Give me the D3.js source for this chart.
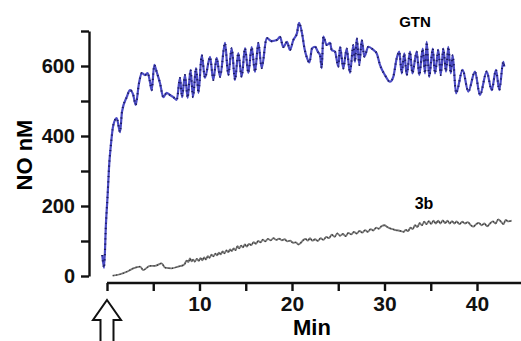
<!DOCTYPE html>
<html>
<head>
<meta charset="utf-8">
<script src="https://cdn.jsdelivr.net/npm/d3@7"></script>
<style>
  body { margin: 0; background: #fff; }
  svg { display: block; font-family: "Liberation Sans", Arial, sans-serif; }
  .axis path, .axis line { stroke: #111; stroke-width: 2.4; }
  .axis text { font-weight: bold; fill: #111; }
</style>
</head>
<body>
<div id="chart"></div>
<script>
// GTN trace (min, nM)
var gtnTime = [-0.51, -0.32, -0.11, 0.08, 0.22, 0.40, 0.68, 1.05, 1.41, 1.62, 2.13, 2.49, 2.84, 3.10,
  3.46, 3.75, 4.11, 4.40, 4.65, 4.83, 5.11, 5.37, 5.73, 6.09, 6.45, 6.81, 7.17, 7.54, 7.89, 8.11,
  8.43, 8.72, 9.03, 9.30, 9.62, 9.89, 10.24, 10.59, 11.14, 11.49, 11.86, 12.22, 12.76, 13.11, 13.48,
  13.84, 14.19, 14.56, 14.92, 15.28, 15.64, 16.00, 16.36, 16.72, 17.26, 17.81, 18.35, 18.70, 19.06,
  19.46, 19.78, 20.14, 20.54, 20.76, 21.08, 21.35, 21.62, 21.89, 22.16, 22.49, 22.81, 23.03, 23.21,
  23.38, 23.75, 24.11, 24.29, 24.65, 25.01, 25.19, 25.55, 25.91, 26.27, 26.63, 26.81, 27.00, 27.28,
  27.54, 27.82, 28.25, 28.79, 29.16, 29.51, 30.05, 30.59, 30.95, 31.32, 31.60, 31.86, 32.14, 32.40,
  32.76, 33.01, 33.48, 33.76, 34.13, 34.38, 34.56, 34.84, 35.21, 35.46, 35.82, 36.08, 36.36, 36.65,
  36.90, 37.16, 37.37, 37.73, 38.45, 39.06, 39.78, 40.32, 41.05, 41.59, 42.05, 42.41, 42.84, 42.95];
var gtnNO = [60, 23, 151, 237, 311, 369, 431, 451, 411, 469, 511, 531, 517, 489,
  551, 580, 574, 580, 554, 531, 603, 583, 551, 511, 523, 517, 511, 503, 566, 511,
  574, 509, 589, 511, 594, 523, 631, 566, 626, 560, 623, 569, 666, 574, 651,
  560, 637, 569, 651, 580, 654, 583, 666, 594, 680, 671, 674, 683, 654,
  669, 646, 674, 694, 723, 694, 650, 623, 610, 650, 655, 640, 631, 594,
  684, 660, 666, 646, 641, 598, 655, 593, 650, 580, 660, 612, 679, 603,
  674, 627, 655, 646, 636, 603, 574, 555, 569, 622, 641, 579, 636, 574,
  641, 579, 641, 574, 650, 579, 669, 569, 650, 579, 646, 574, 650, 584,
  655, 579, 631, 522, 589, 527, 584, 517, 584, 531, 589, 531, 612, 598];

// 3b trace (min, nM)
var b3Time = [0.62, 1.41, 2.13, 2.84, 3.57, 3.92, 4.65, 5.19, 5.91, 6.27, 6.99, 7.71, 8.25,
  8.4, 8.6, 8.8, 8.97, 9.15, 9.33, 9.5, 9.7, 9.9, 10.1, 10.3, 10.5, 10.7, 10.9, 11.1, 11.3, 11.5,
  11.7, 11.9, 12.1, 12.3, 12.5, 12.7, 12.9, 13.1, 13.3, 13.5, 13.7, 13.9, 14.1, 14.3, 14.5, 14.7,
  14.9, 15.1, 15.35, 15.6, 15.85, 16.1, 16.35, 16.6, 16.85, 17.1, 17.4, 17.7, 18.0, 18.3, 18.6,
  18.9, 19.2, 19.5, 19.8, 20.1, 20.4, 20.7, 20.95, 21.2, 21.45, 21.7, 21.95, 22.2, 22.5, 22.8,
  23.1, 23.4, 23.7, 24.0, 24.3, 24.6, 24.9, 25.2, 25.5, 25.8, 26.1, 26.4, 26.7, 27.0, 27.3, 27.6,
  27.9, 28.2, 28.5, 28.8, 29.1, 29.4, 29.7, 30.0, 30.3, 30.6, 30.9, 31.2, 31.5, 31.8, 32.05, 32.3,
  32.55, 32.8, 33.05, 33.3, 33.55, 33.8, 34.05, 34.3, 34.55, 34.8, 35.05, 35.3, 35.55, 35.8, 36.05,
  36.3, 36.55, 36.8, 37.05, 37.3, 37.55, 37.8, 38.1, 38.4, 38.7, 39.0, 39.3, 39.6, 39.9, 40.2,
  40.5, 40.8, 41.1, 41.4, 41.7, 42.0, 42.3, 42.6, 42.85, 43.1, 43.4, 43.75];
var b3NO = [1, 5, 12, 22, 27, 17, 29, 29, 36, 24, 22, 27, 31,
  34, 44, 40, 50, 42, 47, 41, 49, 43, 51, 45, 53, 47, 57, 52, 61, 56,
  64, 59, 67, 62, 70, 65, 73, 68, 76, 71, 79, 74, 85, 79, 87, 82,
  90, 84, 92, 88, 97, 92, 100, 96, 104, 99, 106, 102, 108, 103, 107,
  102, 105, 99, 101, 95, 96, 90, 95, 102, 106, 101, 108, 101, 105, 100,
  108, 103, 112, 108, 118, 112, 122, 115, 120, 114, 123, 119, 126, 121, 129, 124,
  131, 126, 134, 130, 138, 135, 143, 145, 140, 136, 134, 131, 130, 128, 126, 132,
  128, 138, 134, 145, 140, 151, 145, 155, 148, 157, 149, 158, 150, 158, 150,
  159, 151, 158, 150, 157, 150, 156, 148, 155, 150, 154, 146, 141, 148, 152,
  145, 150, 142, 150, 156, 150, 162, 155, 148, 160, 156, 158];

var yTicks = [0, 100, 200, 300, 400, 500, 600, 700];
var yLabels = [0, 200, 400, 600];
var xTicks = [0, 5, 10, 15, 20, 25, 30, 35, 40];
var xLabels = [10, 20, 30, 40];

var width = 521, height = 341;
var svg = d3.select("#chart").append("svg")
  .attr("width", width)
  .attr("height", height);

// scales
var x = d3.scaleLinear().domain([0, 45]).range([107, 523.25]);
var y = d3.scaleLinear().domain([0, 700]).range([276, 31]);

// y axis
var yAxis = svg.append("g")
  .attr("class", "axis")
  .attr("transform", "translate(89,0)")
  .call(d3.axisLeft(y).tickValues(yTicks).tickSize(8).tickSizeOuter(0).tickPadding(6)
    .tickFormat(function (d) { return yLabels.indexOf(d) >= 0 ? d : ""; }));
yAxis.selectAll("text").style("font-size", "20px");

// x axis
var xAxis = svg.append("g")
  .attr("class", "axis")
  .attr("transform", "translate(0,283)")
  .call(d3.axisBottom(x).tickValues(xTicks).tickSize(8).tickSizeOuter(0).tickPadding(5)
    .tickFormat(function (d) { return xLabels.indexOf(d) >= 0 ? d : ""; }));
xAxis.selectAll("text").style("font-size", "21px");
xAxis.select(".domain").attr("d", "M" + x(0) + ",0H" + width);

// axis titles
svg.append("text")
  .attr("x", 312).attr("y", 335)
  .attr("text-anchor", "middle")
  .style("font-size", "22px").style("font-weight", "bold")
  .text("Min");

svg.append("text")
  .attr("transform", "translate(32,155) rotate(-90)")
  .attr("text-anchor", "middle")
  .style("font-size", "22px").style("font-weight", "bold")
  .text("NO nM");

// lines
var line = d3.line()
  .x(function (d) { return x(d[0]); })
  .y(function (d) { return y(d[1]); })
  .curve(d3.curveMonotoneX);

var gtn = d3.zip(gtnTime, gtnNO);
var b3 = d3.zip(b3Time, b3NO);

svg.append("path").datum(gtn)
  .attr("fill", "none").attr("stroke", "#4b4bc4").attr("stroke-width", 2.2)
  .attr("d", line);
svg.append("path").datum(gtn)
  .attr("fill", "none").attr("stroke", "#1b1b5e").attr("stroke-width", 2)
  .attr("stroke-dasharray", "1.2,4")
  .attr("d", line);

svg.append("path").datum(b3)
  .attr("fill", "none").attr("stroke", "#777").attr("stroke-width", 1.8)
  .attr("d", line);
svg.append("path").datum(b3)
  .attr("fill", "none").attr("stroke", "#333").attr("stroke-width", 1.2)
  .attr("stroke-dasharray", "1,2.5")
  .attr("d", line);

// series labels
svg.append("text")
  .attr("x", 415).attr("y", 27)
  .attr("text-anchor", "middle")
  .style("font-size", "15px").style("font-weight", "bold")
  .text("GTN");
svg.append("text")
  .attr("x", 424).attr("y", 209)
  .attr("text-anchor", "middle")
  .style("font-size", "16px").style("font-weight", "bold")
  .text("3b");

// open arrow marking the addition at t = 0
var ax = x(0);
svg.append("path")
  .attr("d", "M" + ax + ",300L" + (ax + 14) + ",320H" + (ax + 6.5) + "V345H" + (ax - 6.5) +
    "V320H" + (ax - 14) + "Z")
  .attr("fill", "#fff").attr("stroke", "#111").attr("stroke-width", 2);
</script>
</body>
</html>
